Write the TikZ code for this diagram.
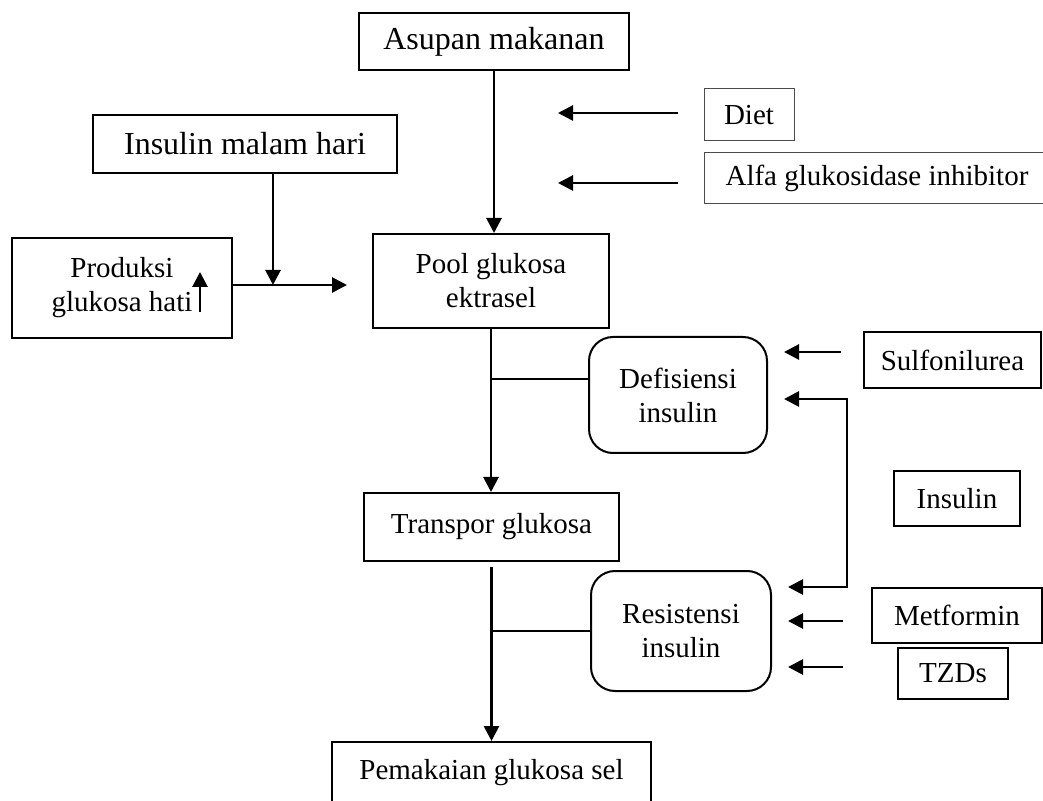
\documentclass[tikz,border=0pt]{standalone}
\usepackage{fontspec}
\setmainfont{Liberation Serif}
\usepackage{tikz}
\usetikzlibrary{arrows.meta}

\begin{document}
\begin{tikzpicture}[
    x=0.5pt, y=-0.5pt,
    font=\fontsize{14.5}{17}\selectfont,
    block/.style={draw, line width=1pt, rectangle, align=center, inner sep=0pt},
    rblock/.style={block, rounded corners=12pt},
    thinblock/.style={draw=black!70, line width=0.5pt, rectangle, align=center, inner sep=0pt},
    bigtext/.style={font=\fontsize{16}{19}\selectfont},
    line/.style={-{Triangle[length=7.5pt,width=7.5pt]}, line width=1.4pt},
    dline/.style={{Triangle[length=7.5pt,width=7.5pt]}-{Triangle[length=7.5pt,width=7.5pt]}, line width=1.4pt},
    branch/.style={line width=0.9pt}
]
\useasboundingbox (0,0) rectangle (1043,801);
\clip (0,0) rectangle (1043,801);

% main column
\node[block, bigtext, minimum width=135pt, minimum height=28.5pt] (asupan) at (494,41.5) {Asupan makanan};
\node[block, minimum width=118pt, minimum height=47pt] (pool) at (491,281) {Pool glukosa\\ektrasel};
\node[block, minimum width=127.5pt, minimum height=34pt] (transpor) at (491.5,527) {Transpor glukosa};
\node[block, minimum width=159.5pt, minimum height=31pt] (pem) at (491.5,773) {Pemakaian glukosa sel};

% left side
\node[block, bigtext, minimum width=152pt, minimum height=29pt] (malam) at (245,144) {Insulin malam hari};
\node[block, minimum width=110pt, minimum height=50pt] (prod) at (122,288) {Produksi\\glukosa hati};

% middle
\node[rblock, minimum width=89pt, minimum height=58pt] (def) at (678,395) {Defisiensi\\insulin};
\node[rblock, minimum width=90pt, minimum height=60pt] (res) at (681,631) {Resistensi\\insulin};

% right side
\node[thinblock, minimum width=45pt, minimum height=26pt] (diet) at (749,115) {Diet};
\node[thinblock, minimum width=173pt, minimum height=25.5pt] (alfa) at (877,178.5) {Alfa glukosidase inhibitor};
\node[block, minimum width=88.5pt, minimum height=28pt] (sulf) at (952.5,360) {Sulfonilurea};
\node[block, minimum width=63pt, minimum height=27.5pt] (ins) at (957,498.5) {Insulin};
\node[block, minimum width=85pt, minimum height=27.5pt] (metf) at (957,615.5) {Metformin};
\node[block, minimum width=55pt, minimum height=25.5pt] (tzd) at (953,673.5) {TZDs};

\coordinate (join) at (273,285);
\coordinate (poolin) at (347,285);
\coordinate (upS) at (200,312);
\coordinate (upE) at (200,272);
\coordinate (j1) at (491,379);
\coordinate (dietS) at (678,113);
\coordinate (dietE) at (558,113);
\coordinate (alfaS) at (678,183);
\coordinate (alfaE) at (558,183);
\coordinate (sulfS) at (841,352);
\coordinate (sulfE) at (784,352);
\coordinate (insD) at (784,399);
\coordinate (insBend) at (847,399);
\coordinate (insR) at (788,587);
\coordinate (metfS) at (843,621);
\coordinate (metfE) at (788,621);
\coordinate (tzdS) at (843,667);
\coordinate (tzdE) at (788,667);

\draw[line] (asupan.south) -- (asupan.south |- pool.north);
\draw[line] (malam.south -| join) -- (join);
\draw[line] (prod.east |- join) -- (poolin);
\draw[line] (upS) -- (upE);
\draw[line] (pool.south) -- (pool.south |- transpor.north);
\draw[branch] (j1) -- (j1 -| def.west);
\draw[line] ([yshift=-2.5pt]transpor.south) -- (pem.north);
\draw[branch] (res.west) -- (res.west -| pem.north);

\draw[line] (dietS) -- (dietE);
\draw[line] (alfaS) -- (alfaE);
\draw[line] (sulfS) -- (sulfE);
\draw[dline] (insD) -- (insBend) |- (insR);
\draw[line] (metfS) -- (metfE);
\draw[line] (tzdS) -- (tzdE);

\end{tikzpicture}
\end{document}
